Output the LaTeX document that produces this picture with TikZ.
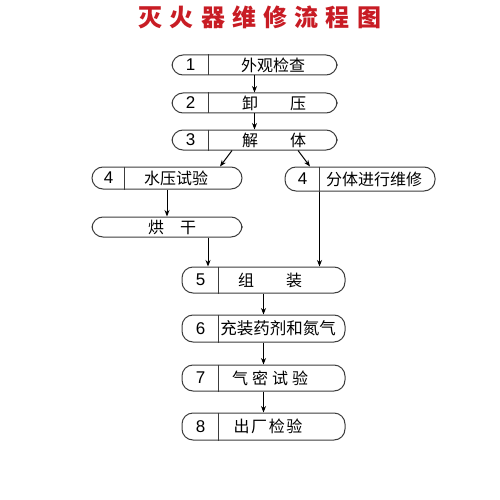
\documentclass[tikz,border=0pt]{standalone}
\usepackage{fontspec}
\setmainfont{Liberation Sans}
\newfontfamily\cjk{Noto Sans CJK SC}
\usetikzlibrary{arrows.meta}
\definecolor{titlered}{RGB}{200,28,36}
\definecolor{boxline}{RGB}{60,60,60}

\begin{document}
\begin{tikzpicture}[x=1pt,y=-1pt,
  procbox/.style={draw=boxline, line width=1pt, rounded corners=11pt,
    inner sep=0pt},
  numtext/.style={font=\fontsize{17}{17}\selectfont},
  cntext/.style={font=\cjk\fontsize{16}{16}\selectfont},
  flow/.style={draw, line width=1pt, -{Stealth[length=6.5pt,width=5pt]}},
  divline/.style={draw=boxline, line width=0.9pt}]
\useasboundingbox (0,0) rectangle (500,500);

% title
\node[font=\cjk\bfseries\fontsize{24}{24}\selectfont, text=titlered] (title)
  at (260,17) {\addfontfeature{LetterSpace=30}灭火器维修流程图};

% main column, top
\node[procbox, minimum width=165pt, minimum height=20pt] (b1) at (254.5,65) {};
\node[procbox, minimum width=165pt, minimum height=20pt] (b2) at (254.5,103) {};
\node[procbox, minimum width=165pt, minimum height=20pt] (b3) at (254.5,140) {};
\node[numtext] (n1) at (190.5,65) {1};
\node[numtext] (n2) at (190.5,103) {2};
\node[numtext] (n3) at (190.5,140) {3};
\node[cntext] (t1) at (273,65) {外观检查};
\node[cntext] (t2) at (274,103) {卸\hspace{2em}压};
\node[cntext] (t3) at (274,140) {解\hspace{2em}体};
\foreach \b in {b1,b2,b3}
  \path[divline] ([xshift=37pt]\b.north west) -- ([xshift=37pt]\b.south west);

% two branches
\node[procbox, minimum width=150pt, minimum height=22pt] (b4l) at (167,178) {};
\node[procbox, minimum width=150pt, minimum height=24pt] (b4r) at (360,179) {};
\node[procbox, minimum width=150pt, minimum height=20pt] (dry) at (167,227) {};
\node[numtext] (n4l) at (108.5,178) {4};
\node[numtext] (n4r) at (302.5,179) {4};
\node[cntext] (t4l) at (176,178) {水压试验};
\node[cntext] (t4r) at (374,179) {分体进行维修};
\node[cntext] (tdry) at (172,227) {烘\hspace{1em}干};
\path[divline] ([xshift=33pt]b4l.north west) -- ([xshift=33pt]b4l.south west);
\path[divline] ([xshift=35pt]b4r.north west) -- coordinate[pos=1] (d4r) ([xshift=35pt]b4r.south west);

% main column, bottom
\node[procbox, minimum width=163pt, minimum height=26pt] (b5) at (263.5,280) {};
\node[procbox, minimum width=163pt, minimum height=27pt] (b6) at (263.5,328.5) {};
\node[procbox, minimum width=163pt, minimum height=26pt] (b7) at (263.5,378) {};
\node[procbox, minimum width=163pt, minimum height=27pt] (b8) at (263.5,426.5) {};
\node[numtext] (n5) at (200.5,280) {5};
\node[numtext] (n6) at (200.5,328.5) {6};
\node[numtext] (n7) at (200.5,378) {7};
\node[numtext] (n8) at (200.5,426.5) {8};
\node[cntext] (t5) at (270,280) {组\hspace{2em}装};
\node[cntext, font=\cjk\fontsize{16.5}{16.5}\selectfont] (t6) at (278,328.5) {充装药剂和氮气};
\node[cntext] (t7) at (270,378) {气\hspace{0.25em}密\hspace{0.25em}试\hspace{0.25em}验};
\node[cntext] (t8) at (268,426.5) {出\hspace{0.1em}厂\hspace{0.1em}检\hspace{0.1em}验};
\foreach \b in {b5,b6,b7,b8}
  \path[divline] ([xshift=37pt]\b.north west) -- ([xshift=37pt]\b.south west);

% connectors
\draw[flow] (b1) -- (b2);
\draw[flow] (b2) -- (b3);
\draw[flow] ([xshift=-22.5pt]b3.south) -- ([xshift=53pt]b4l.north);
\draw[flow] ([xshift=43.5pt]b3.south) -- ([xshift=-50pt]b4r.north);
\draw[flow] (b4l) -- (dry);
\draw[flow] ([xshift=41pt]dry.south) -- ([xshift=41pt]dry.south |- b5.north);
\draw[flow] (d4r) -- (d4r |- b5.north);
\draw[flow] (b5) -- (b6);
\draw[flow] (b6) -- (b7);
\draw[flow] (b7) -- (b8);
\end{tikzpicture}
\end{document}
